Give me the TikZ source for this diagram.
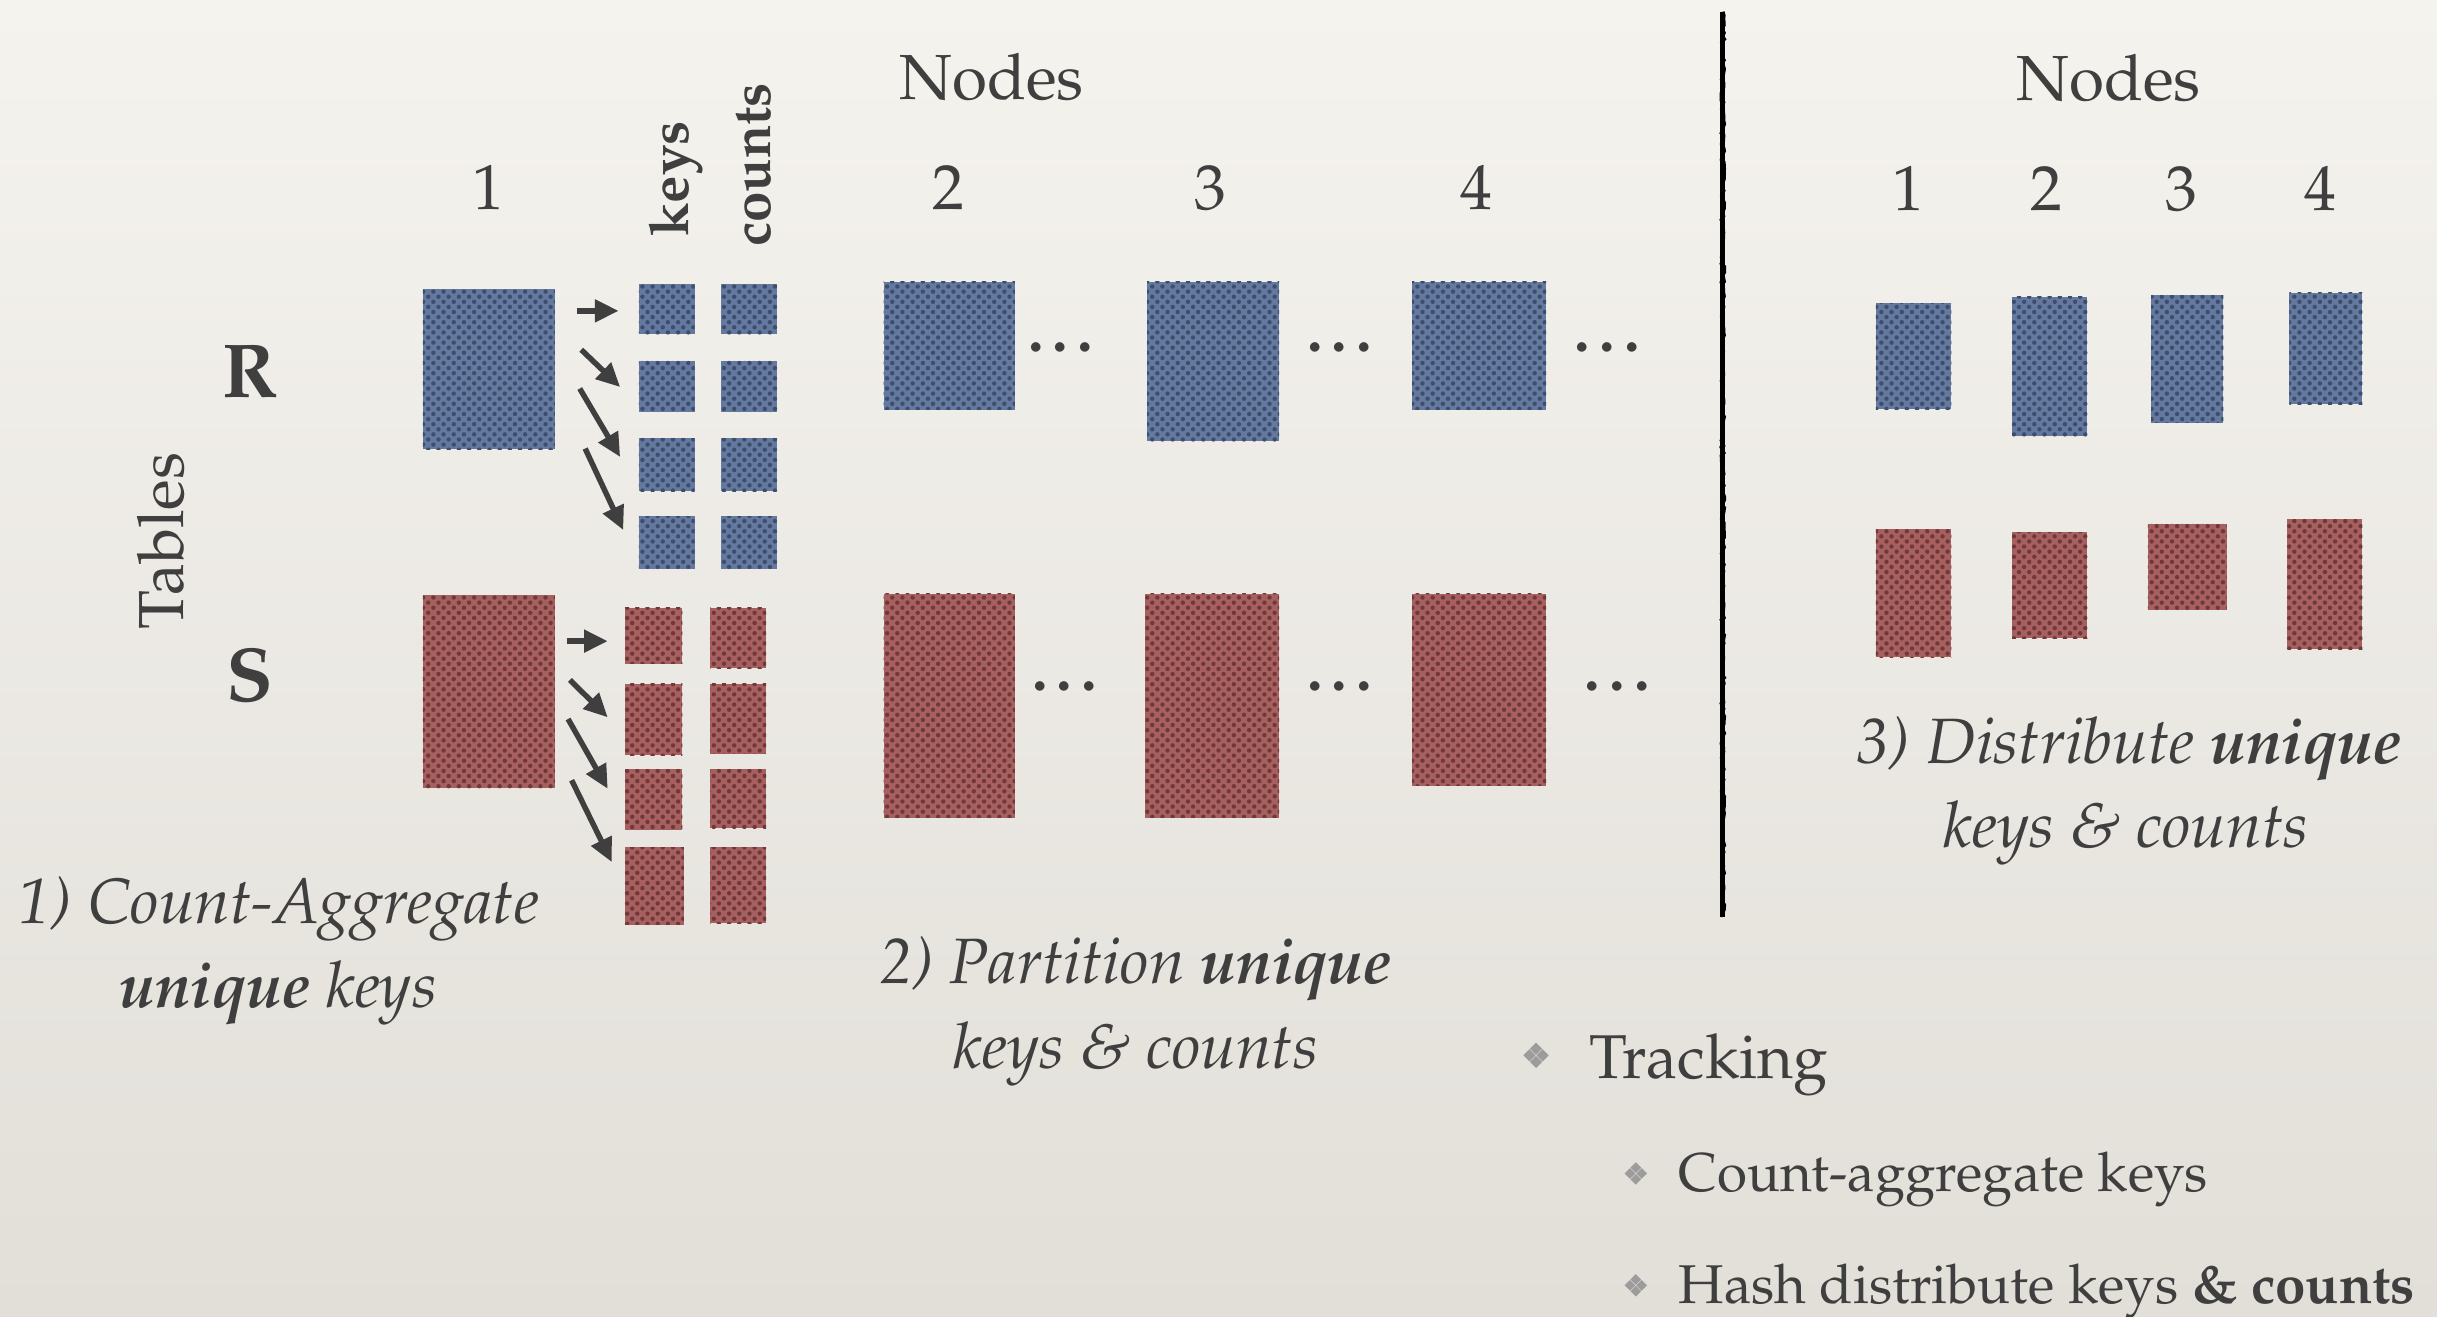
\documentclass[tikz,border=0pt]{standalone}
\usepackage[T1]{fontenc}
\usepackage{mathpazo}
\usetikzlibrary{arrows.meta,patterns,fit,calc,decorations.pathmorphing}

\definecolor{ink}{HTML}{3F3F3F}
\definecolor{bgtop}{HTML}{F5F3EE}
\definecolor{bgbot}{HTML}{E2DFD9}
\definecolor{rblue}{HTML}{6479A0}
\definecolor{rbluedk}{HTML}{3E4D6B}
\definecolor{sred}{HTML}{A85F5F}
\definecolor{sreddk}{HTML}{6E3939}
\definecolor{bulletgray}{HTML}{9C9C9C}

% fine woven dot texture for the table blocks
\pgfdeclarepatternformonly{weavedots}{\pgfqpoint{-1pt}{-1pt}}{\pgfqpoint{4pt}{4pt}}{\pgfqpoint{2.8pt}{2.8pt}}{%
  \pgfpathcircle{\pgfqpoint{0pt}{0pt}}{0.6pt}%
  \pgfpathcircle{\pgfqpoint{1.4pt}{1.4pt}}{0.6pt}%
  \pgfusepath{fill}%
}

\begin{document}
\begin{tikzpicture}[x=0.015cm, y=-0.015cm,
  blk/.style={inner sep=0pt, outer sep=0pt, draw=none},
  rbox/.style={blk, fill=rblue, postaction={pattern=weavedots, pattern color=rbluedk}},
  sbox/.style={blk, fill=sred, postaction={pattern=weavedots, pattern color=sreddk}},
  txt/.style={text=ink, inner sep=0pt, outer sep=0pt, anchor=base},
  title/.style={txt, font=\fontsize{17.5}{21}\selectfont},
  tblname/.style={txt, font=\fontsize{21}{25}\selectfont\bfseries},
  colhead/.style={txt, font=\fontsize{15}{18}\selectfont\bfseries, rotate=90},
  caption/.style={txt, font=\fontsize{17.6}{21}\selectfont\itshape},
  bulletline/.style={txt, anchor=base west, font=\fontsize{17}{21}\selectfont},
  subbullet/.style={txt, anchor=base west, font=\fontsize{15}{19}\selectfont},
  ellip/.style={txt, anchor=center, font=\fontsize{17}{21}\selectfont\bfseries},
  arr/.style={draw=ink, line width=1.5pt, -{Triangle[length=6.5pt, width=6pt]}},
  pics/fleuron/.style={code={
    \foreach \cx/\cy in {1/0,-1/0,0/1,0/-1}{
      \fill[bulletgray] (\cx*#1*0.5,\cy*#1*0.5) ++(#1*0.46,0) -- ++(-#1*0.46,#1*0.46)
        -- ++(-#1*0.46,-#1*0.46) -- ++(#1*0.46,-#1*0.46) -- cycle;
    }
  }}
]
% paper background
\shade[top color=bgtop, bottom color=bgbot] (0,0) rectangle (1568,847);
\useasboundingbox (0,0) rectangle (1568,847);

% ---------- headings ----------
\node[title] (nodesL) at (638,64) {Nodes};
\node[title] (hd1) at (314,135) {1};
\node[title] (hd2) at (610,135) {2};
\node[title] (hd3) at (779,135) {3};
\node[title] (hd4) at (950,135) {4};
\node[title, rotate=90] (tables) at (118,348) {Tables};
\node[tblname] (labR) at (161,255.6) {R};
\node[tblname] (labS) at (161,451.5) {S};
\node[colhead] (keyshead) at (442.7,115) {keys};
\node[colhead] (countshead) at (495.6,106) {counts};

% ---------- node 1: full tables ----------
\node[rbox, fit={(272,186) (357,289)}] (rbig) {};
\node[sbox, fit={(272,383) (357,507)}] (sbig) {};

% ---------- node 1: aggregated keys / counts ----------
\node[rbox, fit={(411,183) (447,215)}] (rk1) {};
\node[rbox, fit={(411,232) (447,265)}] (rk2) {};
\node[rbox, fit={(411,282) (447,316)}] (rk3) {};
\node[rbox, fit={(411,332) (447,366)}] (rk4) {};
\node[rbox, fit={(464,183) (500,215)}] (rc1) {};
\node[rbox, fit={(464,232) (500,265)}] (rc2) {};
\node[rbox, fit={(464,282) (500,316)}] (rc3) {};
\node[rbox, fit={(464,332) (500,366)}] (rc4) {};

\node[sbox, fit={(402,391) (439,427)}] (sk1) {};
\node[sbox, fit={(402,440) (439,486)}] (sk2) {};
\node[sbox, fit={(402,495) (439,534)}] (sk3) {};
\node[sbox, fit={(402,545) (440,595)}] (sk4) {};
\node[sbox, fit={(457,391) (493,430)}] (sc1) {};
\node[sbox, fit={(457,440) (493,485)}] (sc2) {};
\node[sbox, fit={(457,495) (493,533)}] (sc3) {};
\node[sbox, fit={(457,545) (493,594)}] (sc4) {};

% aggregation arrows
\coordinate (ra1) at (371,200);
\coordinate (ra2) at (374,225);
\coordinate (ra3) at (373,250);
\coordinate (ra4) at (376.5,288.6);
\coordinate (sa1) at (364.6,412.5);
\coordinate (sa2) at (366.7,437.5);
\coordinate (sa3) at (365.5,462.6);
\coordinate (sa4) at (367.8,502);
\draw[arr] (ra1) -- ($(rk1.west)+(-13,1)$);
\draw[arr] (ra2) -- ($(rk2.west)+(-12,0.5)$);
\draw[arr] (ra3) -- ($(rk3.west)+(-12,-5)$);
\draw[arr] (ra4) -- ($(rk4.west)+(-10,-8)$);
\draw[arr] (sa1) -- ($(sk1.west)+(-11,3.5)$);
\draw[arr] (sa2) -- ($(sk2.west)+(-11,-1.5)$);
\draw[arr] (sa3) -- ($(sk3.west)+(-11,-7)$);
\draw[arr] (sa4) -- ($(sk4.west)+(-8.4,-15.4)$);

% ---------- nodes 2..4: partitions ----------
\node[rbox, fit={(568.6,181.3) (653,263.5)}] (rp2) {};
\node[rbox, fit={(738,181.3) (823,284)}] (rp3) {};
\node[rbox, fit={(908.6,181.3) (994.8,263.5)}] (rp4) {};
\node[sbox, fit={(568.6,382) (653,526)}] (sp2) {};
\node[sbox, fit={(737,382) (823,526)}] (sp3) {};
\node[sbox, fit={(908.6,382) (994.8,505.6)}] (sp4) {};

\node[ellip] (rdots2) at (685.5,223.6) {\textellipsis};
\node[ellip] (rdots3) at (865,223.6) {\textellipsis};
\node[ellip] (rdots4) at (1037,223.6) {\textellipsis};
\node[ellip] (sdots2) at (688,441.5) {\textellipsis};
\node[ellip] (sdots3) at (865,441.5) {\textellipsis};
\node[ellip] (sdots4) at (1043.5,441.5) {\textellipsis};

% ---------- captions ----------
\node[caption, anchor=base west] (cap1a) at (12,594) {1) Count-Aggregate};
\node[caption] (cap1b) at (179,648) {\textbf{unique} keys};
\node[caption] (cap2a) at (731,632.6) {2) Partition \textbf{unique}};
\node[caption] (cap2b) at (731,687.3) {keys \& counts};

% ---------- separator ----------
\coordinate (sepTop) at (1108.5,7.5);
\coordinate (sepBot) at (1108.5,590);
\draw[black, line width=1.3pt] (sepTop) -- (sepBot);
\draw[black, line width=0.9pt, decorate,
      decoration={random steps, segment length=1.1pt, amplitude=0.45pt}] (sepTop) -- (sepBot);

% ---------- right panel: distributed keys & counts ----------
\node[title] (nodesR) at (1356.8,64.6) {Nodes};
\node[title] (hr1) at (1228,135.5) {1};
\node[title] (hr2) at (1316.6,135.5) {2};
\node[title] (hr3) at (1403.8,135.5) {3};
\node[title] (hr4) at (1492.7,135.5) {4};

\node[rbox, fit={(1207,195) (1255.6,263.4)}] (rd1) {};
\node[rbox, fit={(1294.6,191) (1343,280.7)}] (rd2) {};
\node[rbox, fit={(1384,190) (1430.6,271.9)}] (rd3) {};
\node[rbox, fit={(1473,188.4) (1520,260)}] (rd4) {};
\node[sbox, fit={(1207,340.5) (1255.6,423)}] (sd1) {};
\node[sbox, fit={(1294.6,342.4) (1343,410.7)}] (sd2) {};
\node[sbox, fit={(1382,337) (1432.6,392.3)}] (sd3) {};
\node[sbox, fit={(1471.6,334) (1520,417.8)}] (sd4) {};

\node[caption] (cap3a) at (1370,491) {3) Distribute \textbf{unique}};
\node[caption] (cap3b) at (1368,545) {keys \& counts};

% ---------- bullet list ----------
\pic at (988.3,679) {fleuron=8.5};
\node[bulletline] (trk) at (1023,694) {Tracking};
\pic at (1052.5,755) {fleuron=7.5};
\node[subbullet] (trk1) at (1080,766.7) {Count-aggregate keys};
\pic at (1052.5,827) {fleuron=7.5};
\node[subbullet] (trk2) at (1080,838.6) {Hash distribute keys \textbf{\& counts}};
\end{tikzpicture}
\end{document}
